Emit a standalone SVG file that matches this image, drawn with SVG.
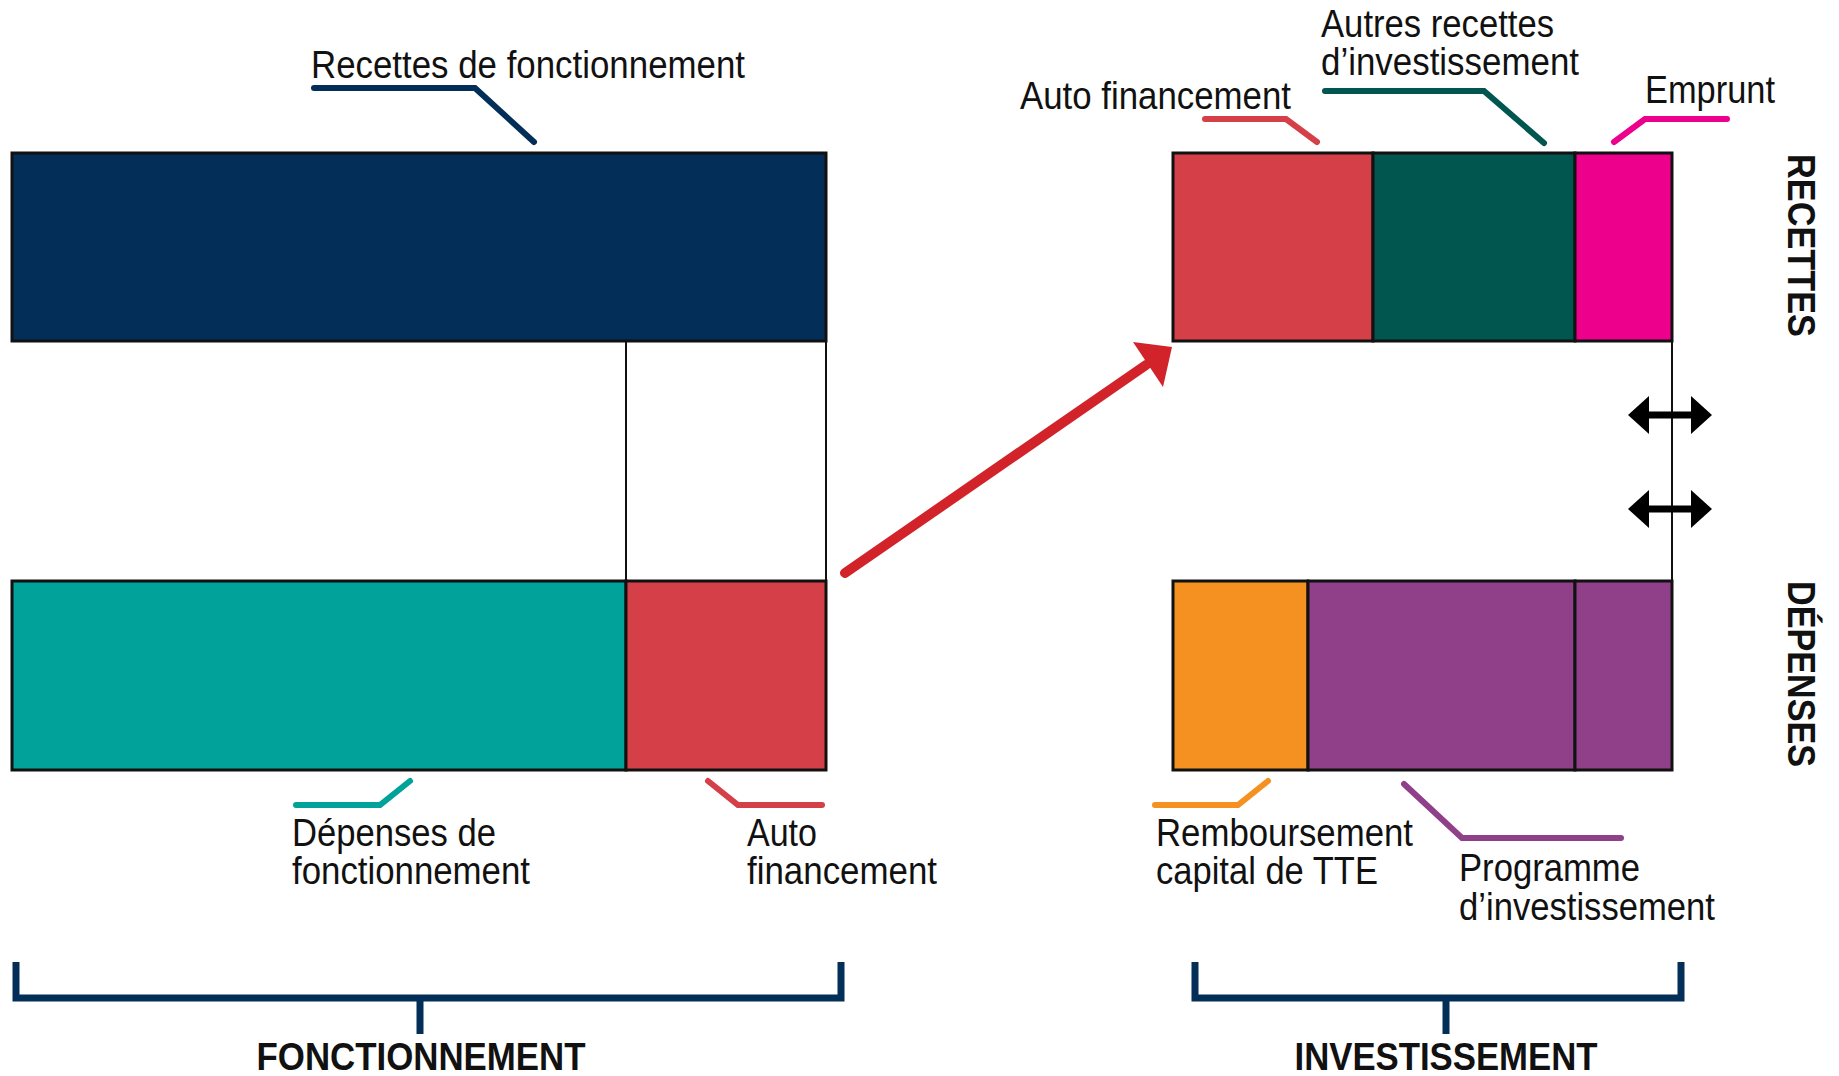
<svg xmlns="http://www.w3.org/2000/svg" xmlns:xlink="http://www.w3.org/1999/xlink" width="1839" height="1076" viewBox="0 0 1839 1076">
<style>
.bar{stroke:#111;stroke-width:3}
.thin{stroke:#111;stroke-width:2;fill:none}
.lbl{font-family:"Liberation Sans Narrow","Liberation Sans",Arial,sans-serif;font-size:38px;fill:#111}
.ttl{font-family:"Liberation Sans Narrow","Liberation Sans",Arial,sans-serif;font-size:39px;font-weight:bold;fill:#111}
.lead{fill:none;stroke-width:6;stroke-linecap:round;stroke-linejoin:miter}
.brk{fill:none;stroke:#032E57;stroke-width:7}
</style>
<defs>
<g id="dbl">
<line x1="1646" y1="0" x2="1694" y2="0" stroke="#000" stroke-width="7"/>
<polygon points="1628,0 1649,-19 1649,19" fill="#000"/>
<polygon points="1712,0 1691,-19 1691,19" fill="#000"/>
</g>
</defs>
<rect width="1839" height="1076" fill="#fff"/>

<g id="fonctionnement-recettes">
<rect class="bar" x="12" y="153" width="814" height="188" fill="#032E57"/>
<text class="lbl" x="311" y="78" textLength="434" lengthAdjust="spacingAndGlyphs">Recettes de fonctionnement</text>
</g>

<g id="fonctionnement-gap">
<line class="thin" x1="626" y1="341" x2="626" y2="581"/>
<line class="thin" x1="826" y1="341" x2="826" y2="581"/>
</g>

<g id="depenses-fonctionnement">
<rect class="bar" x="12" y="581" width="614" height="189" fill="#00A29A"/>
<text class="lbl" x="292" y="846" textLength="204" lengthAdjust="spacingAndGlyphs">Dépenses de</text>
<text class="lbl" x="292" y="884" textLength="238" lengthAdjust="spacingAndGlyphs">fonctionnement</text>
</g>

<g id="autofinancement-fonct">
<rect class="bar" x="626" y="581" width="200" height="189" fill="#D54048"/>
<text class="lbl" x="747" y="846" textLength="70" lengthAdjust="spacingAndGlyphs">Auto</text>
<text class="lbl" x="747" y="884" textLength="190" lengthAdjust="spacingAndGlyphs">financement</text>
</g>

<g id="autofinancement-invest">
<rect class="bar" x="1173" y="153" width="200" height="188" fill="#D54048"/>
<text class="lbl" x="1020" y="109" textLength="271" lengthAdjust="spacingAndGlyphs">Auto financement</text>
</g>

<g id="autres-recettes">
<rect class="bar" x="1373" y="153" width="202" height="188" fill="#015750"/>
<text class="lbl" x="1321" y="37" textLength="233" lengthAdjust="spacingAndGlyphs">Autres recettes</text>
<text class="lbl" x="1321" y="75" textLength="258" lengthAdjust="spacingAndGlyphs">d’investissement</text>
</g>

<g id="emprunt">
<rect class="bar" x="1575" y="153" width="97" height="188" fill="#EC008C"/>
<text class="lbl" x="1645" y="103" textLength="130" lengthAdjust="spacingAndGlyphs">Emprunt</text>
</g>

<g id="remboursement">
<rect class="bar" x="1173" y="581" width="135" height="189" fill="#F59121"/>
<text class="lbl" x="1156" y="846" textLength="257" lengthAdjust="spacingAndGlyphs">Remboursement</text>
<text class="lbl" x="1156" y="884" textLength="222" lengthAdjust="spacingAndGlyphs">capital de TTE</text>
</g>

<g id="programme">
<rect class="bar" x="1308" y="581" width="267" height="189" fill="#8F4089"/>
<rect class="bar" x="1575" y="581" width="97" height="189" fill="#8F4089"/>
<text class="lbl" x="1459" y="881" textLength="181" lengthAdjust="spacingAndGlyphs">Programme</text>
<text class="lbl" x="1459" y="920" textLength="256" lengthAdjust="spacingAndGlyphs">d’investissement</text>
</g>

<g id="axis-labels">
<text class="ttl" transform="translate(1788,154) rotate(90)" textLength="183" lengthAdjust="spacingAndGlyphs">RECETTES</text>
<text class="ttl" transform="translate(1788,581) rotate(90)" textLength="186" lengthAdjust="spacingAndGlyphs">DÉPENSES</text>
</g>

<g id="bracket-fonctionnement">
<path class="brk" d="M16,962 V998 H841 V962 M420,998 V1034"/>
<text class="ttl" x="421" y="1070" text-anchor="middle" textLength="329" lengthAdjust="spacingAndGlyphs">FONCTIONNEMENT</text>
</g>

<g id="bracket-investissement">
<path class="brk" d="M1195,962 V998 H1681 V962 M1446,998 V1034"/>
<text class="ttl" x="1446" y="1070" text-anchor="middle" textLength="303" lengthAdjust="spacingAndGlyphs">INVESTISSEMENT</text>
</g>

<g id="connectors">
<path class="lead" stroke="#032E57" d="M314,88 H475 L534,142"/>
<path class="lead" stroke="#00A29A" d="M296,805 H380 L410,781"/>
<path class="lead" stroke="#D54048" d="M708,781 L738,805 H822"/>
<path class="lead" stroke="#D54048" d="M1205,119 H1286 L1317,142"/>
<path class="lead" stroke="#015750" d="M1325,91 H1484 L1544,143"/>
<path class="lead" stroke="#EC008C" d="M1614,142 L1645,119 H1727"/>
<path class="lead" stroke="#F59121" d="M1155,805 H1238 L1268,781"/>
<path class="lead" stroke="#8F4089" d="M1404,784 L1462,838 H1621"/>
<line class="thin" x1="1672" y1="341" x2="1672" y2="581"/>
<use xlink:href="#dbl" transform="translate(0,415)"/>
<use xlink:href="#dbl" transform="translate(0,509)"/>
<line x1="845" y1="573" x2="1146" y2="365" stroke="#D2232A" stroke-width="10" stroke-linecap="round"/>
<polygon points="1172,347 1133,342 1163,387" fill="#D2232A"/>
</g>
</svg>
